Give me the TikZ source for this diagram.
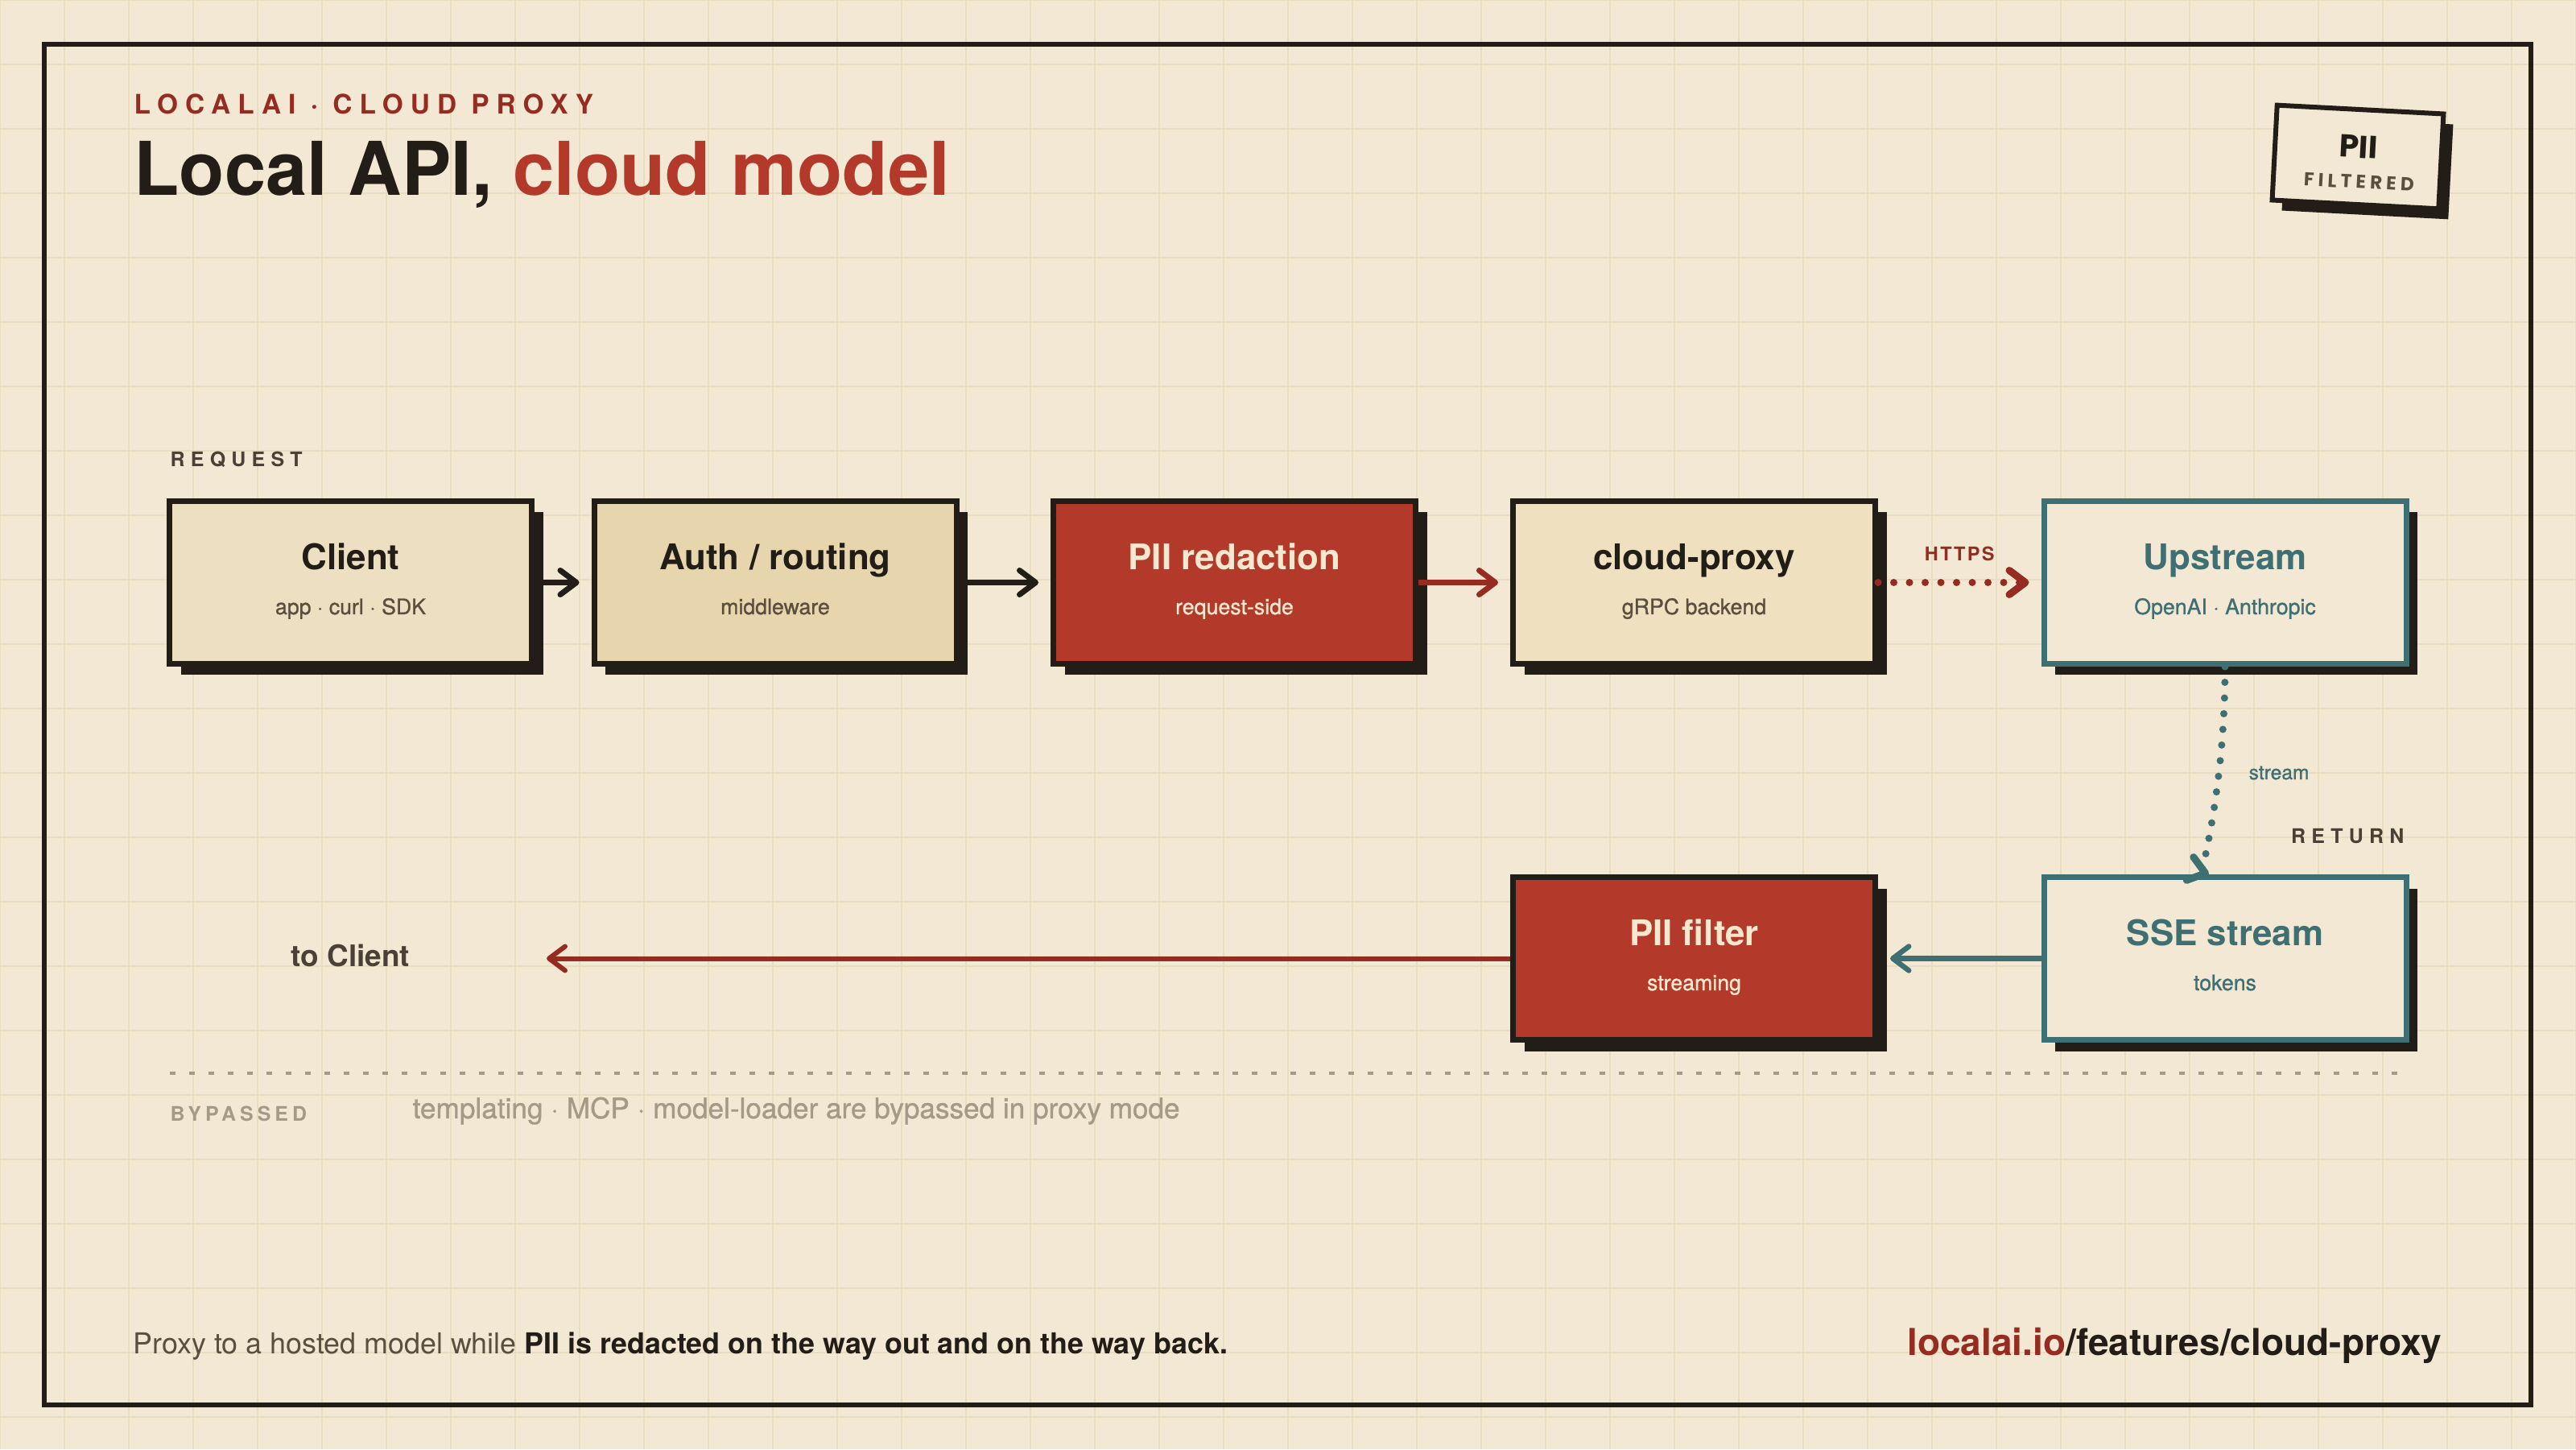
\documentclass[tikz,border=0pt]{standalone}
\usepackage{fontspec}
\setmainfont{TeX Gyre Heros}
\newfontfamily\medfont{TeX Gyre Heros}[FakeBold=1]
\newfontfamily\trackfont{TeX Gyre Heros}[LetterSpace=29]
\newfontfamily\fadedtrack{TeX Gyre Heros}[LetterSpace=20]
\newfontfamily\kickerfont{TeX Gyre Heros}[LetterSpace=27]
\newfontfamily\httpsfont{TeX Gyre Heros}[LetterSpace=10]
\newfontfamily\badgefont{Poppins}
\newfontfamily\badgetrack{Poppins}[LetterSpace=22]
\usetikzlibrary{arrows.meta,positioning,shadows,calc}
\definecolor{ink}      {HTML}{221D16}
\definecolor{paper}    {HTML}{F3E8D3}
\definecolor{gridtan}  {HTML}{EADCC0}
\definecolor{lcred}    {HTML}{B3392B}
\definecolor{lcrust}   {HTML}{962C21}
\definecolor{lcteal}   {HTML}{3E6F73}
\definecolor{sandA}    {HTML}{EDE0C2}
\definecolor{sandB}    {HTML}{E7D5AD}
\definecolor{sandC}    {HTML}{EFE0BF}
\definecolor{mutedink} {HTML}{5A4E3E}
\definecolor{labelink} {HTML}{4A4035}
\definecolor{faded}    {HTML}{A59A86}
\definecolor{cream}    {HTML}{F6E8CF}
\newcommand{\lcsize}[1]{\fontsize{#1pt}{#1pt}\selectfont}

\begin{document}
\begin{tikzpicture}[
      inner sep=0pt,
      box/.style={draw=ink, line width=0.07cm, minimum width=4.5cm,
                  minimum height=2.02cm, inner sep=0pt,
                  drop shadow={shadow xshift=0.14cm, shadow yshift=-0.14cm,
                               fill=ink, opacity=1}},
      ttl/.style={anchor=base, font=\bfseries\lcsize{12.5}, text=ink},
      sub/.style={anchor=base, font=\medfont\lcsize{7.6}, text=mutedink},
      tag/.style={font=\trackfont\bfseries\lcsize{7.1}, text=labelink},
      flow/.style={line width=0.07cm, shorten >=0.15cm,
                   -{Straight Barb[length=0.2cm, width=0.3cm, round]}},
      dots/.style={line width=0.09cm, line cap=round,
                   dash pattern=on 0pt off 0.195cm, shorten >=0.15cm,
                   -{Straight Barb[length=0.2cm, width=0.3cm, round]}},
    ]
      \useasboundingbox (0,0) rectangle (32,18);
      \fill[paper] (0,0) rectangle (32,18);
      \draw[gridtan, line width=0.025cm, step=0.8cm, yshift=0.4cm] (0,-0.4) grid (32,17.6);
      \draw[ink, line width=0.06cm] (0.55,0.55) rectangle (31.44,17.45);

      % heading
      \node[anchor=base west, font=\kickerfont\bfseries\lcsize{9.5}, text=lcrust]
        (kicker) at (1.66,16.58) {LOCALAI · CLOUD PROXY};
      \node[anchor=base west, font=\bfseries\lcsize{26.2}, text=ink]
        (headline) at (1.66,15.57) {Local API, \textcolor{lcred}{cloud model}};

      % badge
      \begin{scope}[shift={(29.29,16.05)}, rotate=-3, every node/.style={transform shape}]
        \node[draw=ink, fill=paper, line width=0.06cm, minimum width=2.07cm,
              minimum height=1.18cm,
              drop shadow={shadow xshift=0.12cm, shadow yshift=-0.13cm,
                           fill=ink, opacity=1}] (badge) at (0,0) {};
        \node[anchor=base, font=\badgefont\bfseries\lcsize{11.2}, text=ink]
          (badge-t) at (0,-0.01) {PII};
        \node[anchor=base, font=\badgetrack\bfseries\lcsize{6.6}, text=mutedink]
          (badge-s) at (0.03,-0.39) {FILTERED};
      \end{scope}

      \node[tag, anchor=base west] (request) at (2.11,12.2) {REQUEST};

      % request row
      \node[box, fill=sandA] (client) at (4.355,10.765) {};
      \node[ttl] (client-t) at ([yshift=0.155cm]client.center) {Client};
      \node[sub] (client-s) at ([yshift=-0.395cm]client.center) {app · curl · SDK};

      \node[box, fill=sandB] (auth) at (9.63,10.765) {};
      \node[ttl] (auth-t) at ([yshift=0.155cm]auth.center) {Auth / routing};
      \node[sub] (auth-s) at ([yshift=-0.395cm]auth.center) {middleware};

      \node[box, fill=lcred] (redact) at (15.335,10.765) {};
      \node[ttl, text=cream] (redact-t) at ([yshift=0.155cm]redact.center) {PII redaction};
      \node[sub, text=cream] (redact-s) at ([yshift=-0.395cm]redact.center) {request-side};

      \node[box, fill=sandC] (proxy) at (21.045,10.765) {};
      \node[ttl] (proxy-t) at ([yshift=0.155cm]proxy.center) {cloud-proxy};
      \node[sub] (proxy-s) at ([yshift=-0.395cm]proxy.center) {gRPC backend};

      \node[box, draw=lcteal, fill=paper] (upstream) at (27.64,10.765) {};
      \node[ttl, text=lcteal] (upstream-t) at ([yshift=0.155cm]upstream.center) {Upstream};
      \node[sub, text=lcteal] (upstream-s) at ([yshift=-0.395cm]upstream.center) {OpenAI · Anthropic};

      % return row
      \node[box, draw=lcteal, fill=paper] (sse) at (27.64,6.095) {};
      \node[ttl, text=lcteal] (sse-t) at ([yshift=0.155cm]sse.center) {SSE stream};
      \node[sub, text=lcteal] (sse-s) at ([yshift=-0.395cm]sse.center) {tokens};

      \node[box, fill=lcred] (filter) at (21.045,6.095) {};
      \node[ttl, text=cream] (filter-t) at ([yshift=0.155cm]filter.center) {PII filter};
      \node[sub, text=cream] (filter-s) at ([yshift=-0.395cm]filter.center) {streaming};

      \node[anchor=base, font=\bfseries\lcsize{10.5}, text=labelink]
        (toclient) at (4.355,6.0) {to Client};
      \node[tag, anchor=base east] (return) at (29.87,7.53) {RETURN};

      \draw[flow, ink] (client.east) -- (auth.west);
      \draw[flow, ink] (auth.east) -- (redact.west);
      \draw[flow, lcrust] (redact.east) -- (proxy.west);
      \draw[dots, lcrust] (proxy.east) -- (upstream.west)
        node[midway, above=0.22cm, font=\httpsfont\bfseries\lcsize{6.7}, text=lcrust] (https) {HTTPS};
      \draw[dots, lcteal, shorten >=0pt] (upstream.south)
        .. controls +(0,-1.5) and +(-0.1,0.03) .. ([xshift=-0.2cm]sse.north);
      \node[anchor=base west, font=\medfont\lcsize{7}, text=lcteal] (streamlbl) at (27.93,8.32) {stream};
      \draw[flow, lcteal, line width=0.065cm] (sse.west) -- (filter.east);
      \draw[flow, lcrust, line width=0.06cm] (filter.west) -- (filter.west -| client.east);

      % bypassed strip
      \draw[faded, line width=0.04cm, dash pattern=on 0.07cm off 0.17cm] (2.11,4.67) -- (29.92,4.67);
      \node[anchor=base west, font=\fadedtrack\bfseries\lcsize{7.1}, text=faded]
        (bypassed) at (2.11,4.08) {BYPASSED};
      \node[anchor=base west, font=\medfont\lcsize{10}, text=faded] (bypassnote) at (5.12,4.11)
        {templating · MCP · model-loader are bypassed in proxy mode};

      % footer
      \node[anchor=base west, font=\lcsize{10.2}, text=mutedink] (footnote) at (1.65,1.19)
        {Proxy to a hosted model while {\bfseries\color{ink}PII is redacted on the way out and on the way back.}};
      \node[anchor=base east, font=\bfseries\lcsize{13.1}] (url) at (30.34,1.17)
        {\textcolor{lcrust}{localai.io}\textcolor{ink}{/features/cloud-proxy}};
    \end{tikzpicture}
\end{document}
